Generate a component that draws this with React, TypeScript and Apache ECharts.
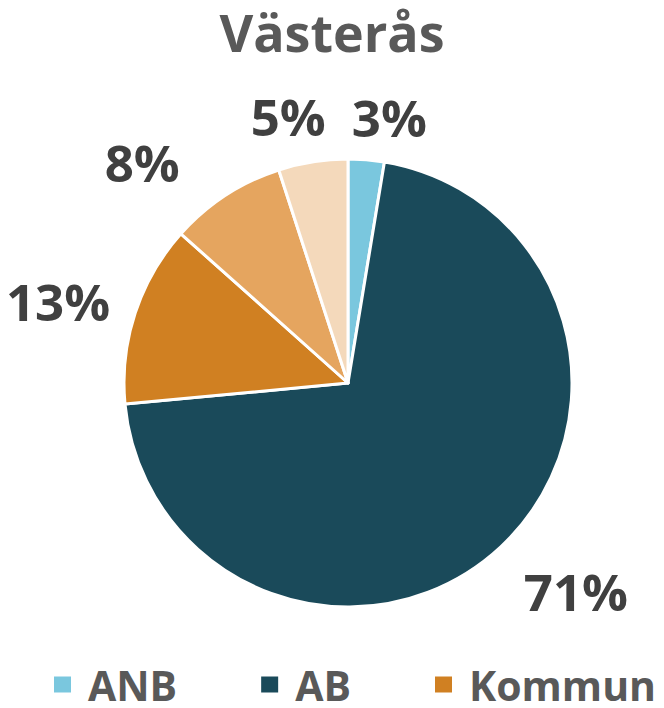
import React, { useEffect, useRef } from "react";
import * as echarts from "echarts";

const titleText = "Västerås";
const categories = ["ANB", "AB", "Kommun", "Region", "Övrigt"];
const values = [2.6, 70.9, 13.1, 8.4, 5.0];
const colors = ["#7AC7DE", "#1A4A5A", "#D08022", "#E5A55F", "#F4D9BB"];
const legendItems = ["ANB", "AB", "Kommun"];
const labelLengths = [43, 60, 40, 40, 46];
const labelGaps = [-18, -18, -13, 24, -20];

const FONT = "'Open Sans', 'Lato', sans-serif";

export default function App() {
  const ref = useRef<HTMLDivElement>(null);
  useEffect(() => {
    if (!ref.current) return;
    const chart = echarts.init(ref.current, undefined, { renderer: "svg" });
    chart.setOption({
      animation: false,
      backgroundColor: "#ffffff",
      title: {
        text: titleText,
        left: "center",
        top: 0,
        textStyle: { fontFamily: FONT, fontWeight: "bold", fontSize: 52, color: "#595959" },
      },
      legend: {
        data: legendItems,
        left: 52,
        top: 664,
        width: 612,
        padding: 0,
        icon: "rect",
        itemWidth: 19,
        itemHeight: 18,
        itemGap: 82,
        textStyle: {
          fontFamily: FONT,
          fontWeight: "bold",
          fontSize: 41,
          lineHeight: 40,
          color: "#595959",
          padding: [0, 0, 0, 11],
        },
      },
      series: [
        {
          type: "pie",
          center: [348, 383],
          radius: 224,
          startAngle: 90,
          clockwise: true,
          avoidLabelOverlap: false,
          itemStyle: { borderColor: "#ffffff", borderWidth: 3 },
          label: {
            show: true,
            position: "outside",
            fontFamily: FONT,
            fontWeight: "bold",
            fontSize: 51,
            color: "#404040",
            formatter: (p: any) => Math.round(p.value) + "%",
          },
          labelLine: { show: false, length2: 0 },
          emphasis: { disabled: true },
          data: categories.map((name, i) => ({
            name,
            value: values[i],
            itemStyle: { color: colors[i] },
            label: { distanceToLabelLine: labelGaps[i] },
            labelLine: { show: false, length: labelLengths[i], length2: 0 },
          })),
        },
      ],
    });
    return () => chart.dispose();
  }, []);
  return <div ref={ref} style={{ position: "fixed", left: 0, top: 0, width: 664, height: 708 }} />;
}
